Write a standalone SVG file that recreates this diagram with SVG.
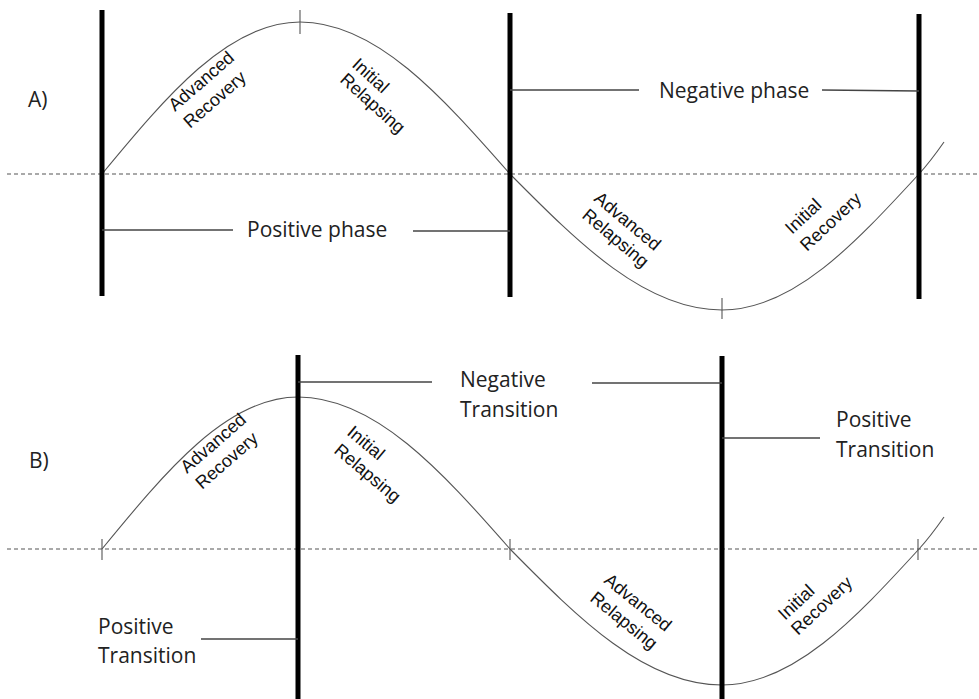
<svg xmlns="http://www.w3.org/2000/svg" width="979" height="699" viewBox="0 0 979 699">
<style>
.bg{fill:#ffffff}
.axis{stroke:#555;stroke-width:1.2;stroke-dasharray:4 3;fill:none}
.curve{stroke:#555;stroke-width:1.1;fill:none}
.bar{stroke:#000;stroke-width:5;fill:none}
.tick{stroke:#555;stroke-width:1.1;fill:none}
.lead{stroke:#444;stroke-width:1.3;fill:none}
.big{font-family:"Open Sans","Liberation Sans",sans-serif;font-size:21px;fill:#222}
.rot{font-family:"Liberation Sans",Arial,sans-serif;font-size:18px;fill:#111}
</style>
<rect class="bg" x="0" y="0" width="979" height="699"/>

<g id="panel-a">
  <line class="axis" x1="7" y1="174" x2="979" y2="174"/>
  <path id="curve-a" class="curve" d="M102,174 C166.5,96.1 228.3,22 300,22 C376,22 441.5,96.1 510,174 C579.1,243.7 645.3,310 722,310 C793.3,310 854.8,243.7 919,174 C930,162 937,152 944,142"/>
  <line class="tick" x1="300" y1="10" x2="300" y2="34"/>
  <line class="tick" x1="722" y1="298" x2="722" y2="319"/>
  <line class="bar" x1="102" y1="10" x2="102" y2="296"/>
  <line class="bar" x1="510" y1="13" x2="510" y2="297"/>
  <line class="bar" x1="919" y1="14" x2="919" y2="299"/>
  <text class="big" x="28" y="107">A)</text>
</g>

<g id="panel-b">
  <line class="axis" x1="7" y1="549" x2="979" y2="549"/>
  <path id="curve-b" class="curve" d="M102,549 C166,471 227,397 298,397 C375,397 441.5,471 510,549 C579,619 645,685 722,685 C793,685 855,619 919,549 C930,537 937,527 944,517"/>
  <line class="tick" x1="102" y1="539" x2="102" y2="560"/>
  <line class="tick" x1="510" y1="539" x2="510" y2="560"/>
  <line class="tick" x1="918" y1="539" x2="918" y2="560"/>
  <line class="bar" x1="298" y1="355" x2="298" y2="699"/>
  <line class="bar" x1="722" y1="356" x2="722" y2="699"/>
  <text class="big" x="29" y="468">B)</text>
</g>

<g id="connectors">
  <line class="lead" x1="102" y1="230" x2="233" y2="230"/>
  <line class="lead" x1="413" y1="231" x2="510" y2="231"/>
  <line class="lead" x1="510" y1="90" x2="639" y2="90"/>
  <line class="lead" x1="822" y1="90" x2="919" y2="91"/>
  <line class="lead" x1="298" y1="382" x2="432" y2="382"/>
  <line class="lead" x1="592" y1="383" x2="722" y2="383"/>
  <line class="lead" x1="722" y1="438" x2="820" y2="438"/>
  <line class="lead" x1="201" y1="639" x2="298" y2="639"/>
</g>

<g id="label-positive-phase"><text class="big" x="247" y="237">Positive phase</text></g>
<g id="label-negative-phase"><text class="big" x="659" y="98">Negative phase</text></g>
<g id="label-negative-transition"><text class="big" x="460" y="387">Negative</text><text class="big" x="460" y="417">Transition</text></g>
<g id="label-positive-transition-right"><text class="big" x="836" y="427">Positive</text><text class="big" x="836" y="457">Transition</text></g>
<g id="label-positive-transition-left"><text class="big" x="98" y="634">Positive</text><text class="big" x="98" y="663">Transition</text></g>

<g id="a-advanced-recovery">
  <text class="rot" transform="translate(175,112) rotate(-41)">Advanced</text>
  <text class="rot" transform="translate(190,129) rotate(-41)">Recovery</text>
</g>
<g id="a-initial-relapsing">
  <text class="rot" transform="translate(351,66) rotate(42)">Initial</text>
  <text class="rot" transform="translate(339,81) rotate(42)">Relapsing</text>
</g>
<g id="a-advanced-relapsing">
  <text class="rot" transform="translate(593,200) rotate(40)">Advanced</text>
  <text class="rot" transform="translate(581,217) rotate(40)">Relapsing</text>
</g>
<g id="a-initial-recovery">
  <text class="rot" transform="translate(792,235) rotate(-43)">Initial</text>
  <text class="rot" transform="translate(807,252) rotate(-43)">Recovery</text>
</g>

<g id="b-advanced-recovery">
  <text class="rot" transform="translate(187,474) rotate(-41)">Advanced</text>
  <text class="rot" transform="translate(202,490) rotate(-41)">Recovery</text>
</g>
<g id="b-initial-relapsing">
  <text class="rot" transform="translate(346,434) rotate(40)">Initial</text>
  <text class="rot" transform="translate(333,452) rotate(40)">Relapsing</text>
</g>
<g id="b-advanced-relapsing">
  <text class="rot" transform="translate(603,582) rotate(39)">Advanced</text>
  <text class="rot" transform="translate(589,600) rotate(39)">Relapsing</text>
</g>
<g id="b-initial-recovery">
  <text class="rot" transform="translate(785,621) rotate(-43)">Initial</text>
  <text class="rot" transform="translate(798,636) rotate(-43)">Recovery</text>
</g>
</svg>
